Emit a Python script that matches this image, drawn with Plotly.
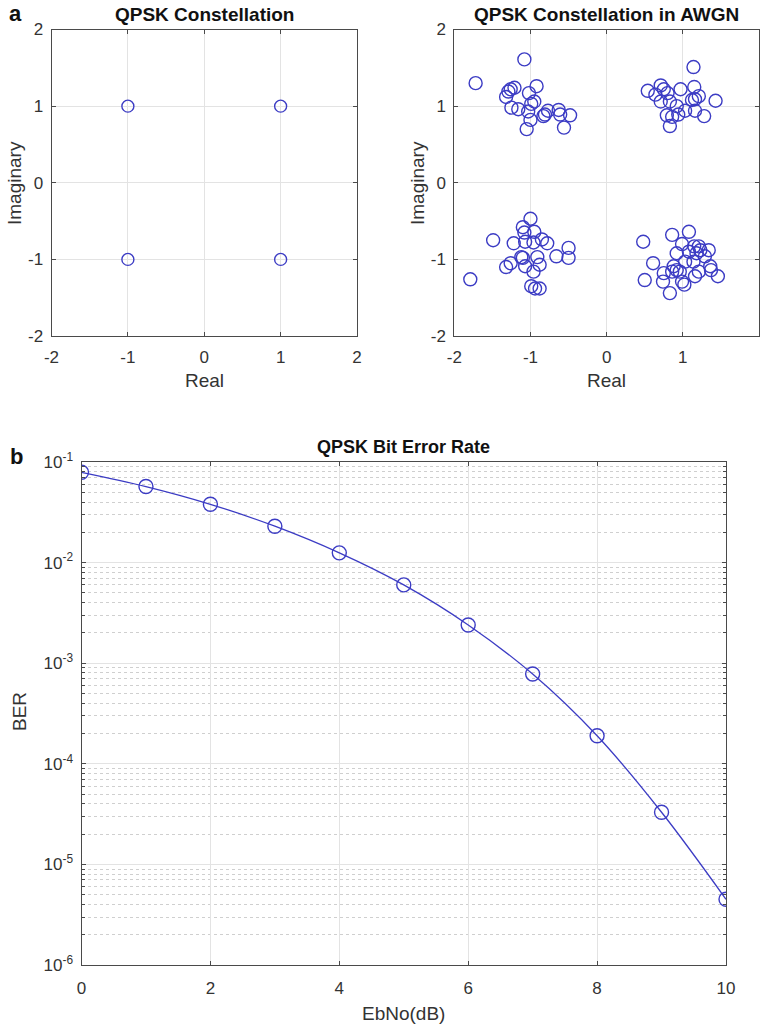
import plotly.graph_objects as go

# ---------------- data ----------------
ideal_real = [-1, 1, -1, 1]
ideal_imag = [1, 1, -1, -1]

awgn_real = [
    -1.08, -1.72, -1.21, -1.26, -1.29, -0.92, -1.02, -1.32, -0.95, -0.99, -1.25,
    -1.16, -1.03, -0.77, -0.81, -0.83, -0.63, -0.61, -0.48, -1.00, -1.05, -0.56,
    1.14, 0.54, 0.71, 0.75, 0.64, 0.80, 0.97, 1.15, 1.21, 1.12, 1.16,
    1.43, 0.71, 0.83, 0.92, 1.03, 1.16, 1.28, 0.79, 0.86, 0.94, 0.83,
    -1.00, -1.10, -1.08, -0.95, -1.49, -1.22, -1.07, -0.96, -0.85, -0.78, -0.50,
    -1.12, -1.10, -0.91, -0.66, -0.50, -1.26, -1.32, -1.07, -0.88, -0.96, -1.79,
    -0.99, -0.94, -0.88,
    0.48, 0.86, 1.08, 0.99, 0.92, 1.08, 1.15, 1.21, 1.23, 1.34, 1.18,
    1.29, 1.03, 1.14, 0.61, 0.88, 0.92, 0.86, 0.96, 0.75, 1.36, 1.37,
    1.21, 1.16, 1.46, 0.50, 0.74, 0.99, 1.02, 0.83,
]
awgn_imag = [
    1.61, 1.30, 1.24, 1.22, 1.19, 1.26, 1.17, 1.12, 1.06, 1.03, 0.98,
    0.96, 0.93, 0.94, 0.89, 0.87, 0.95, 0.89, 0.88, 0.82, 0.70, 0.72,
    1.51, 1.20, 1.27, 1.22, 1.15, 1.17, 1.22, 1.25, 1.13, 1.08, 1.09,
    1.07, 1.06, 1.06, 1.00, 0.94, 0.94, 0.87, 0.88, 0.86, 0.89, 0.74,
    -0.47, -0.58, -0.65, -0.64, -0.75, -0.79, -0.77, -0.78, -0.74, -0.79, -0.85,
    -0.97, -0.98, -0.97, -0.96, -0.98, -1.05, -1.10, -1.09, -1.07, -1.16, -1.26,
    -1.35, -1.38, -1.38,
    -0.77, -0.68, -0.64, -0.80, -0.92, -0.90, -0.83, -0.83, -0.88, -0.88, -0.92,
    -0.96, -1.03, -1.03, -1.05, -1.09, -1.14, -1.16, -1.16, -1.18, -1.09, -1.14,
    -1.16, -1.22, -1.22, -1.27, -1.29, -1.29, -1.33, -1.44,
]

ebno_db = [0, 1, 2, 3, 4, 5, 6, 7, 8, 9, 10]
ber = [0.079, 0.057, 0.038, 0.023, 0.0125, 0.006, 0.0024, 0.00078, 0.00019, 3.3e-5, 4.5e-6]

const_ticks = [-2, -1, 0, 1, 2]
const_ticktext = ["-2", "-1", "0", "1", "2"]
ebno_ticks = [0, 2, 4, 6, 8, 10]
ber_tickvals = [1e-6, 1e-5, 1e-4, 1e-3, 1e-2, 1e-1]
ber_ticktext = ["10<sup>-6</sup>", "10<sup>-5</sup>", "10<sup>-4</sup>",
                "10<sup>-3</sup>", "10<sup>-2</sup>", "10<sup>-1</sup>"]
ber_minor_vals = [m * d for d in [1e-6, 1e-5, 1e-4, 1e-3, 1e-2] for m in range(2, 10)]

# ---------------- style ----------------
W, H = 761, 1035
BLUE = "#3c3cc4"
AX = "#4a4a4a"
GRID = "#e3e3e3"
FONT = "Liberation Sans, Arial, sans-serif"
TXT = "#333333"
TICK_SIZE = 17
LABEL_SIZE = 19
TITLE_SIZE = 19


def px_x(p):
    return p / W


def px_y(p):
    return 1 - p / H


fig = go.Figure()

fig.add_trace(go.Scatter(
    x=ideal_real, y=ideal_imag, mode="markers", xaxis="x", yaxis="y",
    marker=dict(symbol="circle-open", size=12, color=BLUE, line=dict(width=1.4)),
    showlegend=False))

fig.add_trace(go.Scatter(
    x=awgn_real, y=awgn_imag, mode="markers", xaxis="x2", yaxis="y2",
    marker=dict(symbol="circle-open", size=13, color=BLUE, line=dict(width=1.4)),
    showlegend=False))

fig.add_trace(go.Scatter(
    x=ebno_db, y=ber, mode="lines+markers", xaxis="x3", yaxis="y3",
    line=dict(color=BLUE, width=1.3, shape="spline"),
    marker=dict(symbol="circle-open", size=14, color=BLUE, line=dict(width=1.4)),
    showlegend=False))

common = dict(
    showline=True, linecolor=AX, linewidth=1, mirror="ticks",
    ticks="inside", ticklen=4, tickcolor=AX, automargin=False,
    showgrid=True, gridcolor=GRID, gridwidth=1, zeroline=False,
    tickfont=dict(family=FONT, size=TICK_SIZE, color=TXT),
)

layout_axes = dict(
    xaxis=dict(domain=[px_x(51.5), px_x(357)], anchor="y", range=[-2, 2],
               tickvals=const_ticks, ticktext=const_ticktext, ticklabelstandoff=6, **common),
    yaxis=dict(domain=[px_y(336), px_y(29.5)], anchor="x", range=[-2, 2],
               tickvals=const_ticks, ticktext=const_ticktext, ticklabelstandoff=4, **common),
    xaxis2=dict(domain=[px_x(454.3), px_x(759)], anchor="y2", range=[-2, 2],
                tickvals=const_ticks, ticktext=const_ticktext, ticklabelstandoff=6, **common),
    yaxis2=dict(domain=[px_y(336), px_y(29.5)], anchor="x2", range=[-2, 2],
                tickvals=const_ticks, ticktext=const_ticktext, ticklabelstandoff=4, **common),
    xaxis3=dict(domain=[px_x(81.5), px_x(726)], anchor="y3", range=[0, 10],
                tickvals=ebno_ticks, ticklabelstandoff=8, **common),
    yaxis3=dict(domain=[px_y(965), px_y(462)], anchor="x3", type="log", range=[-6, -1],
                tickvals=ber_tickvals, ticktext=ber_ticktext, ticklabelstandoff=4,
                minor=dict(tickmode="array", tickvals=ber_minor_vals,
                           ticks="inside", ticklen=3, tickcolor=AX, showgrid=True,
                           gridcolor="#cfcfcf", griddash="dot", gridwidth=1),
                **common),
)


def ann(text, x, y, size, angle=0, xanchor="center", color=TXT):
    return dict(text=text, x=px_x(x), y=px_y(y), xref="paper", yref="paper",
                showarrow=False, textangle=angle,
                font=dict(family=FONT, size=size, color=color),
                xanchor=xanchor, yanchor="middle")


annotations = [
    ann("<b>QPSK Constellation</b>", 204, 15, TITLE_SIZE, color="#111"),
    ann("<b>QPSK Constellation in AWGN</b>", 606, 15, TITLE_SIZE, color="#111"),
    ann("<b>QPSK Bit Error Rate</b>", 404, 447, TITLE_SIZE - 1, color="#111"),
    ann("<b>a</b>", 7, 14, 22, xanchor="left", color="#111"),
    ann("<b>b</b>", 8, 457, 22, xanchor="left", color="#111"),
    ann("Real", 204, 381, LABEL_SIZE),
    ann("Real", 606, 381, LABEL_SIZE),
    ann("Imaginary", 15, 183, LABEL_SIZE, angle=-90),
    ann("Imaginary", 418, 183, LABEL_SIZE, angle=-90),
    ann("EbNo(dB)", 403, 1013, LABEL_SIZE),
    ann("BER", 19, 712, LABEL_SIZE, angle=-90),
]

fig.update_layout(
    width=W, height=H,
    margin=dict(l=0, r=0, t=0, b=0),
    paper_bgcolor="white", plot_bgcolor="white",
    font=dict(family=FONT, color=TXT),
    annotations=annotations,
    hovermode=False,
    **layout_axes,
)

fig.write_html(
    "out.html",
    config={"displayModeBar": False},
    post_script="document.body.style.margin='0';document.body.style.overflow='hidden';",
)
